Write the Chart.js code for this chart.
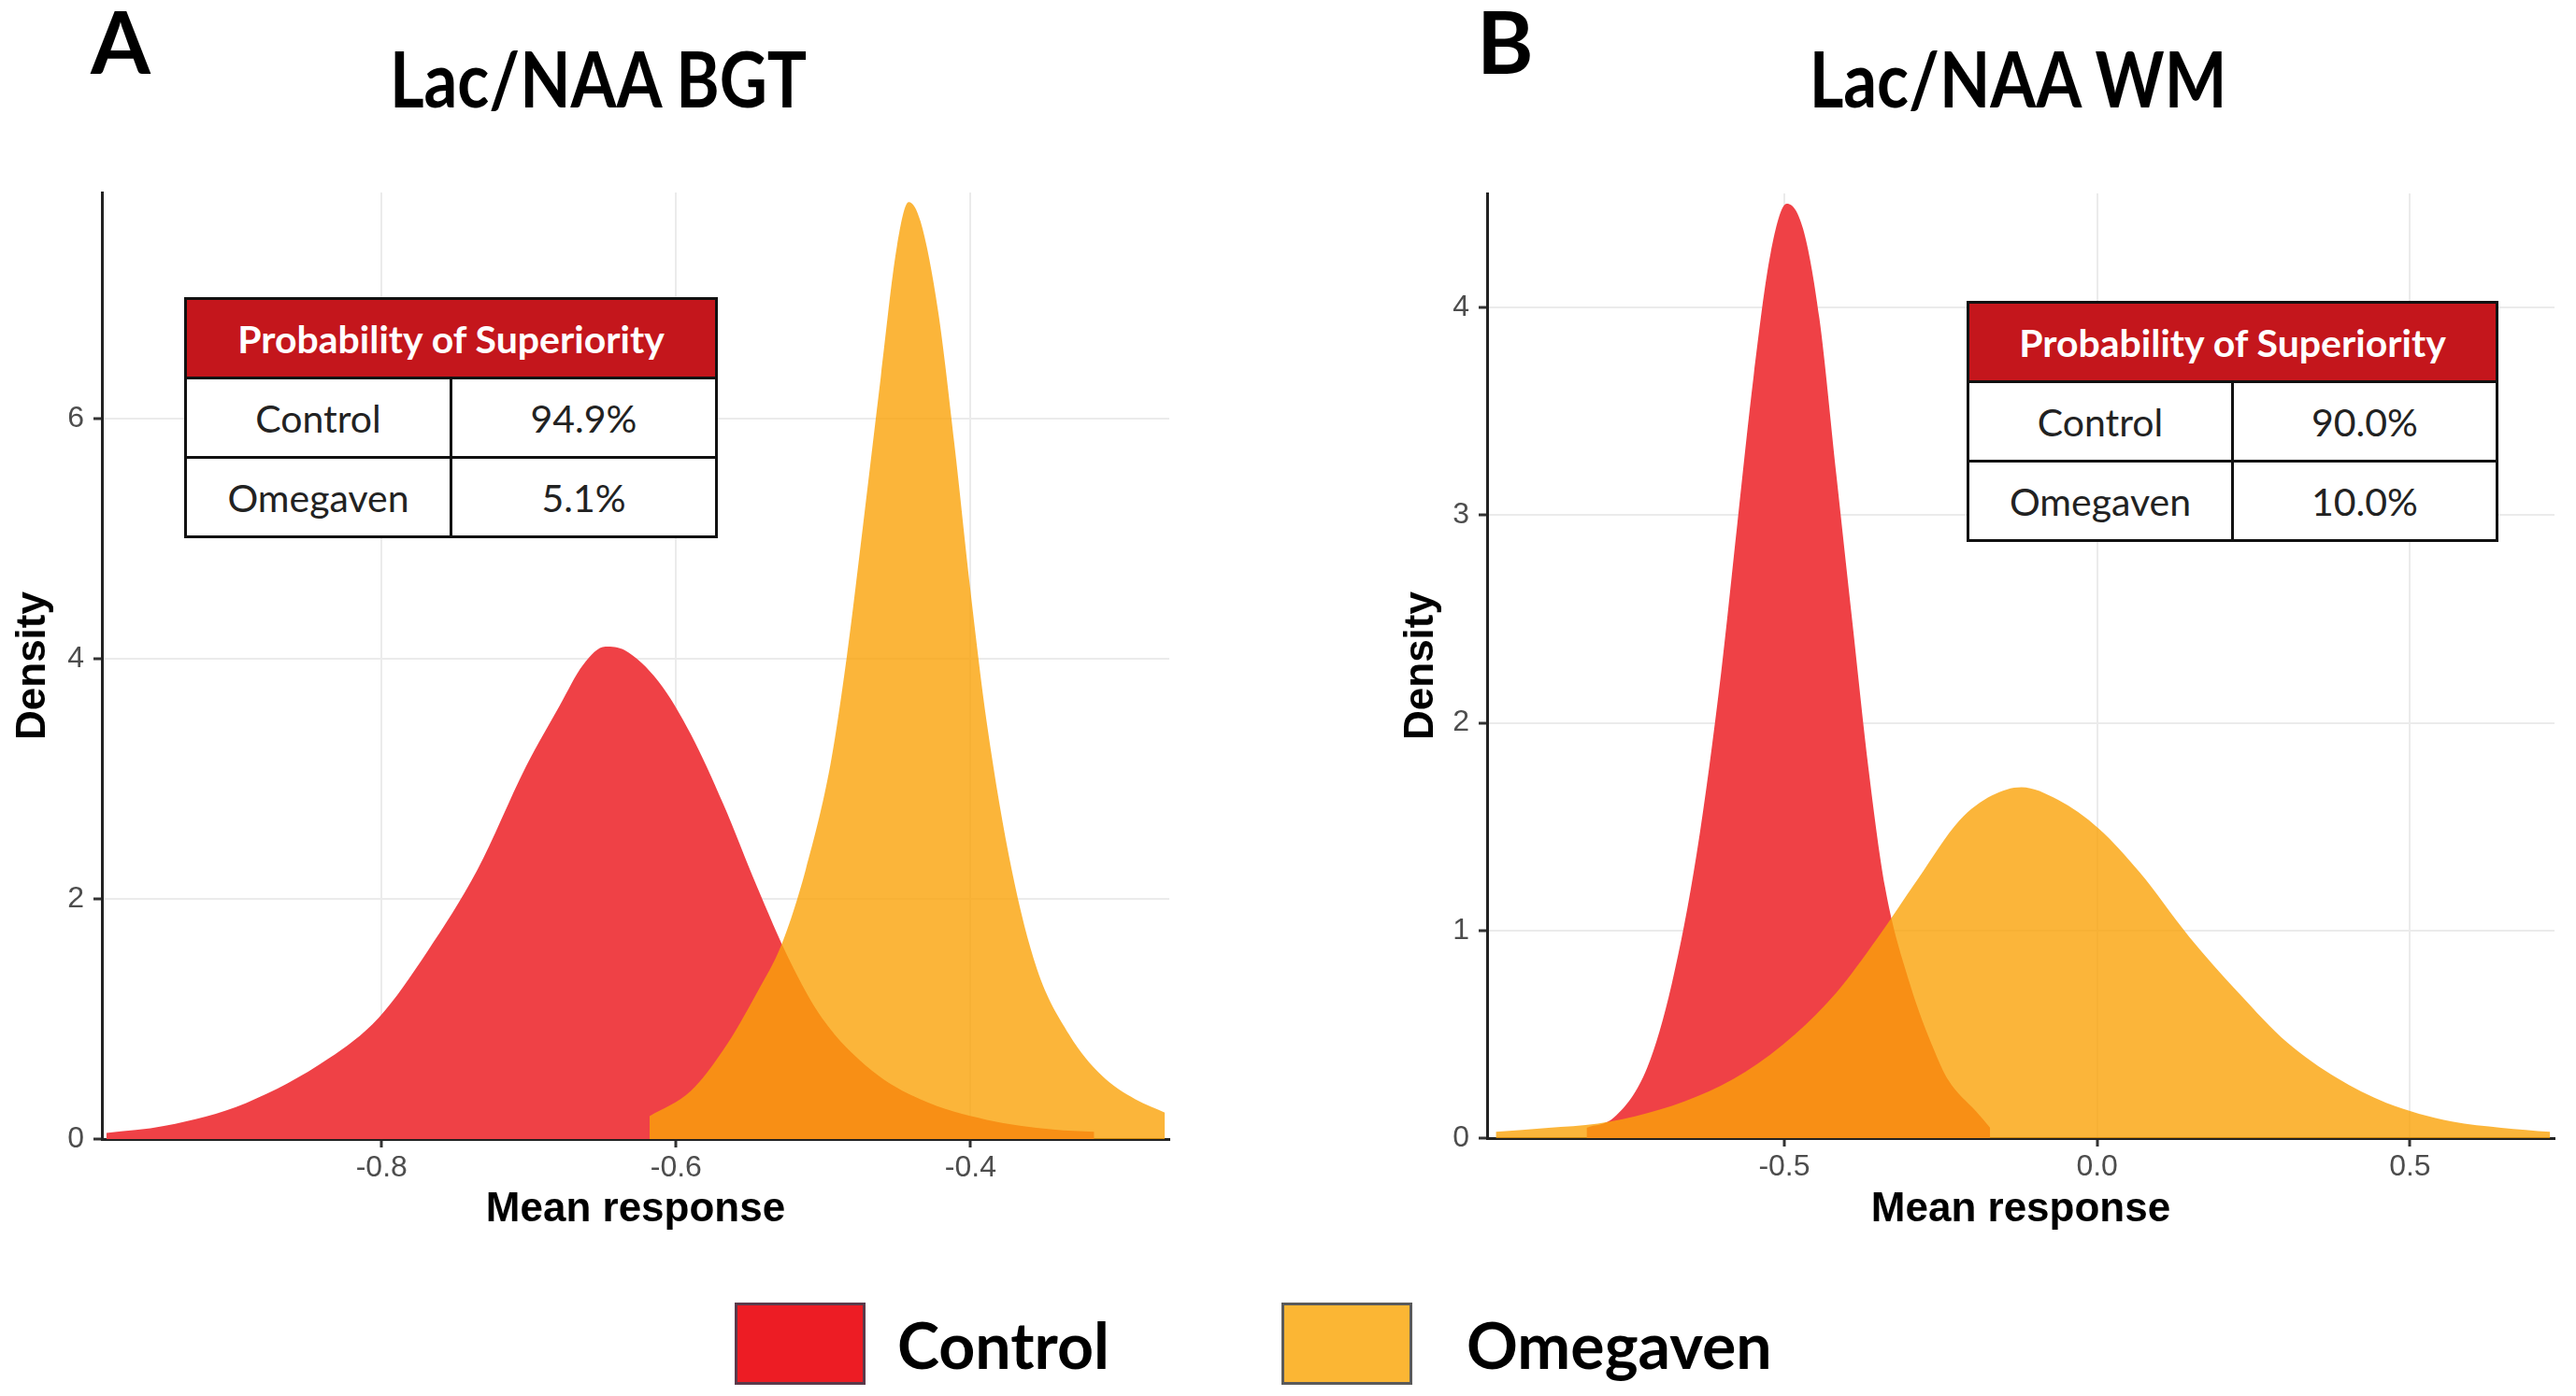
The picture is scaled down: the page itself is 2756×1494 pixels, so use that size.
<!DOCTYPE html>
<html>
<head>
<meta charset="utf-8">
<title>Lac/NAA posterior densities</title>
<script src="https://cdn.jsdelivr.net/npm/chart.js@4.4.1/dist/chart.umd.min.js"></script>
<style>
    body {
        margin: 0;
        width: 2756px;
        height: 1494px;
        background: #fff;
        position: relative;
        overflow: hidden;
        font-family: Lato, "Open Sans", sans-serif;
    }
    canvas { position: absolute; top: 0; }
    #chartA { left: 0; }
    #chartB { left: 1480px; }
    .letter {
        position: absolute;
        font-weight: 700;
        font-size: 92px;
        line-height: 1;
    }
    .title {
        position: absolute;
        font-weight: 700;
        font-size: 82px;
        line-height: 1;
        white-space: nowrap;
        transform: translateX(-50%) scaleX(0.86);
    }
    table.pos {
        position: absolute;
        z-index: 2;
        border-collapse: collapse;
        background: #fff;
        font-size: 41px;
        color: #222;
        table-layout: fixed;
    }
    table.pos td, table.pos th {
        border: 3px solid #111;
        text-align: center;
        padding: 0;
        height: 82px;
    }
    table.pos th {
        background: #c4161c;
        color: #fff;
        font-weight: 700;
        font-size: 41px;
    }
    .legend {
        position: absolute;
        top: 1394px;
        height: 88px;
        display: flex;
        align-items: center;
    }
    .legend .box {
        width: 134px;
        height: 82px;
        border: 3px solid #555;
    }
    .legend .txt {
        font-weight: 700;
        font-size: 68px;
        margin-left: 34px;
    }
    #legendOmega .txt { margin-left: 58px; }
</style>
</head>
<body>
<div class="letter" style="left:97px; top:-2px;">A</div>
<div class="letter" style="left:1580px; top:-2px;">B</div>
<div class="title" style="left:640px; top:42px;">Lac/NAA BGT</div>
<div class="title" style="left:2159px; top:42px;">Lac/NAA WM</div>

<canvas id="chartA" width="1300" height="1330"></canvas>
<canvas id="chartB" width="1276" height="1330"></canvas>

<table class="pos" id="tableA" style="left:197px; top:318px; width:571px;"></table>
<table class="pos" id="tableB" style="left:2104px; top:322px; width:569px;"></table>

<div class="legend" id="legendControl" style="left:786px;"></div>
<div class="legend" id="legendOmega" style="left:1371px;"></div>

<script>
// Panel A: Lac/NAA BGT
const bgtControlX = [-0.987, -0.947, -0.892, -0.836, -0.802, -0.769, -0.735, -0.702, -0.679, -0.663, -0.648,
    -0.635, -0.612, -0.590, -0.568, -0.545, -0.523, -0.501, -0.467, -0.434, -0.389, -0.344, -0.316];
const bgtControlY = [0.05, 0.11, 0.30, 0.67, 1.01, 1.56, 2.24, 3.10, 3.61, 3.95, 4.10,
    4.07, 3.81, 3.37, 2.79, 2.10, 1.49, 1.01, 0.57, 0.33, 0.16, 0.08, 0.06];
const bgtOmegaX = [-0.618, -0.590, -0.568, -0.545, -0.528, -0.512, -0.495, -0.484, -0.473, -0.461, -0.450,
    -0.442, -0.434, -0.422, -0.411, -0.400, -0.389, -0.372, -0.355, -0.333, -0.311, -0.288, -0.268];
const bgtOmegaY = [0.19, 0.40, 0.74, 1.22, 1.63, 2.24, 3.13, 4.02, 5.11, 6.34, 7.43,
    7.80, 7.64, 6.89, 5.79, 4.56, 3.47, 2.24, 1.42, 0.87, 0.53, 0.33, 0.22];
const bgtXTicks = [-0.8, -0.6, -0.4];
const bgtYTicks = [0, 2, 4, 6];
const bgtSuperiority = ['94.9%', '5.1%'];

// Panel B: Lac/NAA WM
const wmControlX = [-0.816, -0.772, -0.719, -0.680, -0.640, -0.601, -0.575, -0.549, -0.522, -0.496,
    -0.470, -0.444, -0.417, -0.391, -0.365, -0.339, -0.299, -0.260, -0.238, -0.194, -0.171];
const wmControlY = [0.05, 0.10, 0.34, 0.74, 1.37, 2.24, 2.96, 3.67, 4.26, 4.50,
    4.38, 3.95, 3.20, 2.48, 1.77, 1.21, 0.74, 0.42, 0.28, 0.13, 0.05];
const wmOmegaX = [-0.961, -0.877, -0.798, -0.719, -0.640, -0.562, -0.483, -0.417, -0.352, -0.286, -0.220, -0.168,
    -0.121, -0.063, 0.003, 0.068, 0.147, 0.226, 0.304, 0.383, 0.462, 0.567, 0.646, 0.724];
const wmOmegaY = [0.03, 0.05, 0.07, 0.12, 0.20, 0.32, 0.50, 0.70, 0.96, 1.25, 1.53, 1.65,
    1.69, 1.63, 1.49, 1.28, 0.97, 0.70, 0.46, 0.29, 0.17, 0.08, 0.05, 0.03];
const wmXTicks = [-0.5, 0.0, 0.5];
const wmYTicks = [0, 1, 2, 3, 4];
const wmSuperiority = ['90.0%', '10.0%'];

const groups = ['Control', 'Omegaven'];

const RED = 'rgb(239, 65, 70)';
const ORANGE = 'rgba(250, 162, 9, 0.8)';
const TICK_FONT = { family: 'Liberation Sans', size: 32 };
const TITLE_FONT = { family: 'Liberation Sans', size: 44, weight: 'bold' };

function toPoints(xs, ys) {
    return xs.map((x, i) => ({ x: x, y: ys[i] }));
}

function crearPanel(canvasId, cfg) {
    const ctx = document.getElementById(canvasId).getContext('2d');
    const area = {
        tension: 0.4,
        cubicInterpolationMode: 'monotone',
        pointRadius: 0,
        borderWidth: 1,
        borderColor: 'rgba(0,0,0,0)',
        fill: 'origin'
    };
    return new Chart(ctx, {
        type: 'line',
        data: {
            datasets: [
                Object.assign({ label: groups[0], data: toPoints(cfg.cx, cfg.cy), backgroundColor: RED, order: 2 }, area),
                Object.assign({ label: groups[1], data: toPoints(cfg.ox, cfg.oy), backgroundColor: ORANGE, order: 1 }, area)
            ]
        },
        options: {
            responsive: false,
            animation: false,
            events: [],
            layout: { padding: { top: cfg.top, right: cfg.right, left: 0, bottom: 0 } },
            plugins: {
                legend: { display: false },
                tooltip: { enabled: false }
            },
            scales: {
                x: {
                    type: 'linear',
                    min: cfg.xMin,
                    max: cfg.xMax,
                    afterBuildTicks: s => { s.ticks = cfg.xTicks.map(v => ({ value: v })); },
                    afterFit: s => { s.height = cfg.xHeight; },
                    ticks: {
                        font: TICK_FONT,
                        color: '#4d4d4d',
                        padding: 3,
                        maxRotation: 0,
                        callback: v => cfg.xFmt(v)
                    },
                    grid: { color: '#ebebeb', lineWidth: 2, tickColor: '#333', tickLength: 9, tickWidth: 3 },
                    border: { display: true, color: '#222', width: 3 },
                    title: { display: true, text: 'Mean response', font: TITLE_FONT, color: '#000', padding: { bottom: 9 } }
                },
                y: {
                    min: 0,
                    max: cfg.yMax,
                    afterBuildTicks: s => { s.ticks = cfg.yTicks.map(v => ({ value: v })); },
                    afterFit: s => { s.width = cfg.yWidth; },
                    ticks: { font: TICK_FONT, color: '#4d4d4d', padding: 10 },
                    grid: { color: '#ebebeb', lineWidth: 2, tickColor: '#333', tickLength: 9, tickWidth: 3 },
                    border: { display: true, color: '#222', width: 3 },
                    title: { display: true, text: 'Density', font: TITLE_FONT, color: '#000', padding: { top: cfg.yTitlePad } }
                }
            }
        }
    });
}

function llenarTabla(id, valores) {
    const tabla = document.getElementById(id);
    let html = '<tr><th colspan="2">Probability of Superiority</th></tr>';
    groups.forEach((g, i) => {
        html += `<tr><td>${g}</td><td>${valores[i]}</td></tr>`;
    });
    tabla.innerHTML = html;
}

function llenarLeyenda() {
    const colores = ['#ed1c24', '#fbb634'];
    const bordes = ['#5b3a4a', '#5a5a5a'];
    ['legendControl', 'legendOmega'].forEach((id, i) => {
        document.getElementById(id).innerHTML =
            `<div class="box" style="background:${colores[i]}; border-color:${bordes[i]}"></div>` +
            `<div class="txt">${groups[i]}</div>`;
    });
}

document.addEventListener('DOMContentLoaded', function() {
    if (typeof Chart === 'undefined') {
        console.error('Chart.js no está cargado.');
        return;
    }
    crearPanel('chartA', {
        cx: bgtControlX, cy: bgtControlY, ox: bgtOmegaX, oy: bgtOmegaY,
        xMin: -0.99, xMax: -0.265, yMax: 7.88,
        xTicks: bgtXTicks, yTicks: bgtYTicks,
        xFmt: v => String(v),
        top: 206, right: 49, xHeight: 111, yWidth: 109, yTitlePad: 9
    });
    crearPanel('chartB', {
        cx: wmControlX, cy: wmControlY, ox: wmOmegaX, oy: wmOmegaY,
        xMin: -0.975, xMax: 0.731, yMax: 4.55,
        xTicks: wmXTicks, yTicks: wmYTicks,
        xFmt: v => v.toFixed(1),
        top: 207, right: 23, xHeight: 112, yWidth: 111, yTitlePad: 14
    });
    llenarTabla('tableA', bgtSuperiority);
    llenarTabla('tableB', wmSuperiority);
    llenarLeyenda();
});
</script>
</body>
</html>
